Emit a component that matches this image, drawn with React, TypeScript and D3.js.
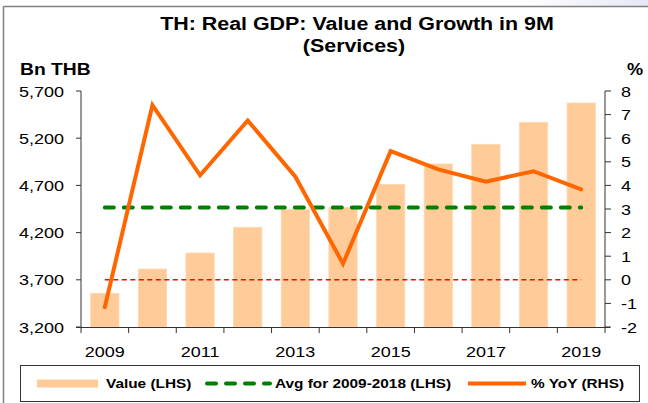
import React from "react";
import * as d3 from "d3";

const years = ["2009","2010","2011","2012","2013","2014","2015","2016","2017","2018","2019"];
const valueBn = [3557, 3814, 3984, 4256, 4443, 4468, 4711, 4927, 5135, 5368, 5573];
const yoyPct = [-1.16, 7.40, 4.43, 6.75, 4.37, 0.68, 5.45, 4.68, 4.16, 4.60, 3.83];
const avgValue = 4466;
const leftTicks = [3200, 3700, 4200, 4700, 5200, 5700];
const rightTicks = [-2, -1, 0, 1, 2, 3, 4, 5, 6, 7, 8];
const xLabelYears = ["2009","2011","2013","2015","2017","2019"];
const titleLines = ["TH: Real GDP: Value and Growth in 9M", "(Services)"];
const legendLabels = ["Value (LHS)", "Avg for 2009-2018 (LHS)", "% YoY (RHS)"];

const FONT = "'Liberation Sans', Arial, sans-serif";
const SX = 1.2;

function T({ x, y, children, size = 15, bold = false, anchor = "start", sx = SX }: any) {
  return (
    <text
      transform={`translate(${x},${y}) scale(${sx},1)`}
      fontFamily={FONT}
      fontSize={size}
      fontWeight={bold ? "bold" : "normal"}
      textAnchor={anchor}
      fill="#000"
    >
      {children}
    </text>
  );
}

export default function App() {
  const W = 648, H = 403;
  const left = 81, right = 605, top = 91, bottom = 327;

  const x = d3.scaleBand<string>().domain(years).range([left, right]).paddingInner(0).paddingOuter(0);
  const bw = x.bandwidth();
  const barW = bw * 0.595;
  const cx = (y: string) => (x(y) as number) + bw / 2;
  const yL = d3.scaleLinear().domain([3200, 5700]).range([bottom, top]);
  const yR = d3.scaleLinear().domain([-2, 8]).range([bottom, top]);

  const line = d3.line<number>().x((_, i) => cx(years[i])).y((d) => yR(d));
  const boundaries = years.map((y) => x(y) as number).concat([right]);

  const first = cx(years[0]);
  const last = cx(years[years.length - 1]);

  return (
    <svg width={W} height={H} style={{ position: "absolute", left: 0, top: 0 }}>
      <defs>
        <linearGradient id="topfade" x1="0" x2="1" y1="0" y2="0">
          <stop offset="0" stopColor="#ffffff" />
          <stop offset="1" stopColor="#e6e8f5" />
        </linearGradient>
      </defs>
      <rect x={0} y={0} width={W} height={H} fill="#fff" />
      <rect x={520} y={0} width={128} height={6} fill="url(#topfade)" />
      {/* outer frame */}
      <line x1={3.5} x2={W} y1={6.5} y2={6.5} stroke="#808080" strokeWidth={1.5} />
      <line x1={3.5} x2={3.5} y1={6.5} y2={H} stroke="#808080" strokeWidth={1.5} />

      {/* title */}
      <T x={357} y={30} size={18} bold anchor="middle" sx={1.19}>{titleLines[0]}</T>
      <T x={354} y={52} size={18} bold anchor="middle" sx={1.19}>{titleLines[1]}</T>
      <T x={20} y={75} size={16.5} bold sx={1.17}>Bn THB</T>
      <T x={627} y={75} size={16.5} bold sx={1.1}>%</T>

      {/* bars */}
      {valueBn.map((v, i) => (
        <rect
          key={years[i]}
          x={cx(years[i]) - barW / 2}
          y={yL(v)}
          width={barW}
          height={bottom - yL(v)}
          fill="#FFCC99"
          stroke="#FFD9B3"
          strokeWidth={0.8}
        />
      ))}

      {/* zero line RHS */}
      <line x1={first} x2={last} y1={yR(0)} y2={yR(0)} stroke="#FF0000" strokeWidth={1.6} strokeDasharray="5,3.5" />
      {/* average */}
      <line x1={first} x2={last} y1={yL(avgValue)} y2={yL(avgValue)} stroke="#008000" strokeWidth={4} strokeDasharray="9,10" strokeLinecap="round" />
      {/* YoY */}
      <path d={line(yoyPct) || ""} fill="none" stroke="#FF6600" strokeWidth={4} strokeLinejoin="miter" strokeLinecap="round" />

      {/* axes */}
      <line x1={left} x2={left} y1={top} y2={bottom} stroke="#333" strokeWidth={1} />
      <line x1={right} x2={right} y1={top} y2={bottom} stroke="#333" strokeWidth={1} />
      <line x1={left - 5} x2={right + 5} y1={bottom + 0.5} y2={bottom + 0.5} stroke="#333" strokeWidth={1} />
      {leftTicks.map((t) => (
        <g key={t}>
          <line x1={left - 5} x2={left} y1={yL(t)} y2={yL(t)} stroke="#333" />
          <T x={64} y={yL(t) + 5.5} anchor="end">{d3.format(",")(t)}</T>
        </g>
      ))}
      {rightTicks.map((t) => (
        <g key={t}>
          <line x1={right} x2={right + 6} y1={yR(t)} y2={yR(t)} stroke="#333" />
          <T x={621} y={yR(t) + 5.5}>{String(t)}</T>
        </g>
      ))}
      {boundaries.map((b, i) => (
        <line key={i} x1={b} x2={b} y1={bottom} y2={bottom + 6} stroke="#333" />
      ))}
      {xLabelYears.map((y) => (
        <T key={y} x={cx(y)} y={357} anchor="middle">{y}</T>
      ))}

      {/* legend */}
      <rect x={20.5} y={365.5} width={619} height={36} fill="#fff" stroke="#333" strokeWidth={1} />
      <rect x={37} y={379.5} width={61} height={8} fill="#FFCC99" />
      <T x={106} y={388} size={12.5} bold sx={1.23}>{legendLabels[0]}</T>
      <line x1={207} x2={270} y1={383.5} y2={383.5} stroke="#008000" strokeWidth={4} strokeDasharray="9,10" strokeLinecap="round" />
      <T x={275} y={388} size={12.5} bold sx={1.23}>{legendLabels[1]}</T>
      <line x1={468} x2={526} y1={383.5} y2={383.5} stroke="#FF6600" strokeWidth={4} />
      <T x={531} y={388} size={12.5} bold sx={1.23}>{legendLabels[2]}</T>
    </svg>
  );
}
